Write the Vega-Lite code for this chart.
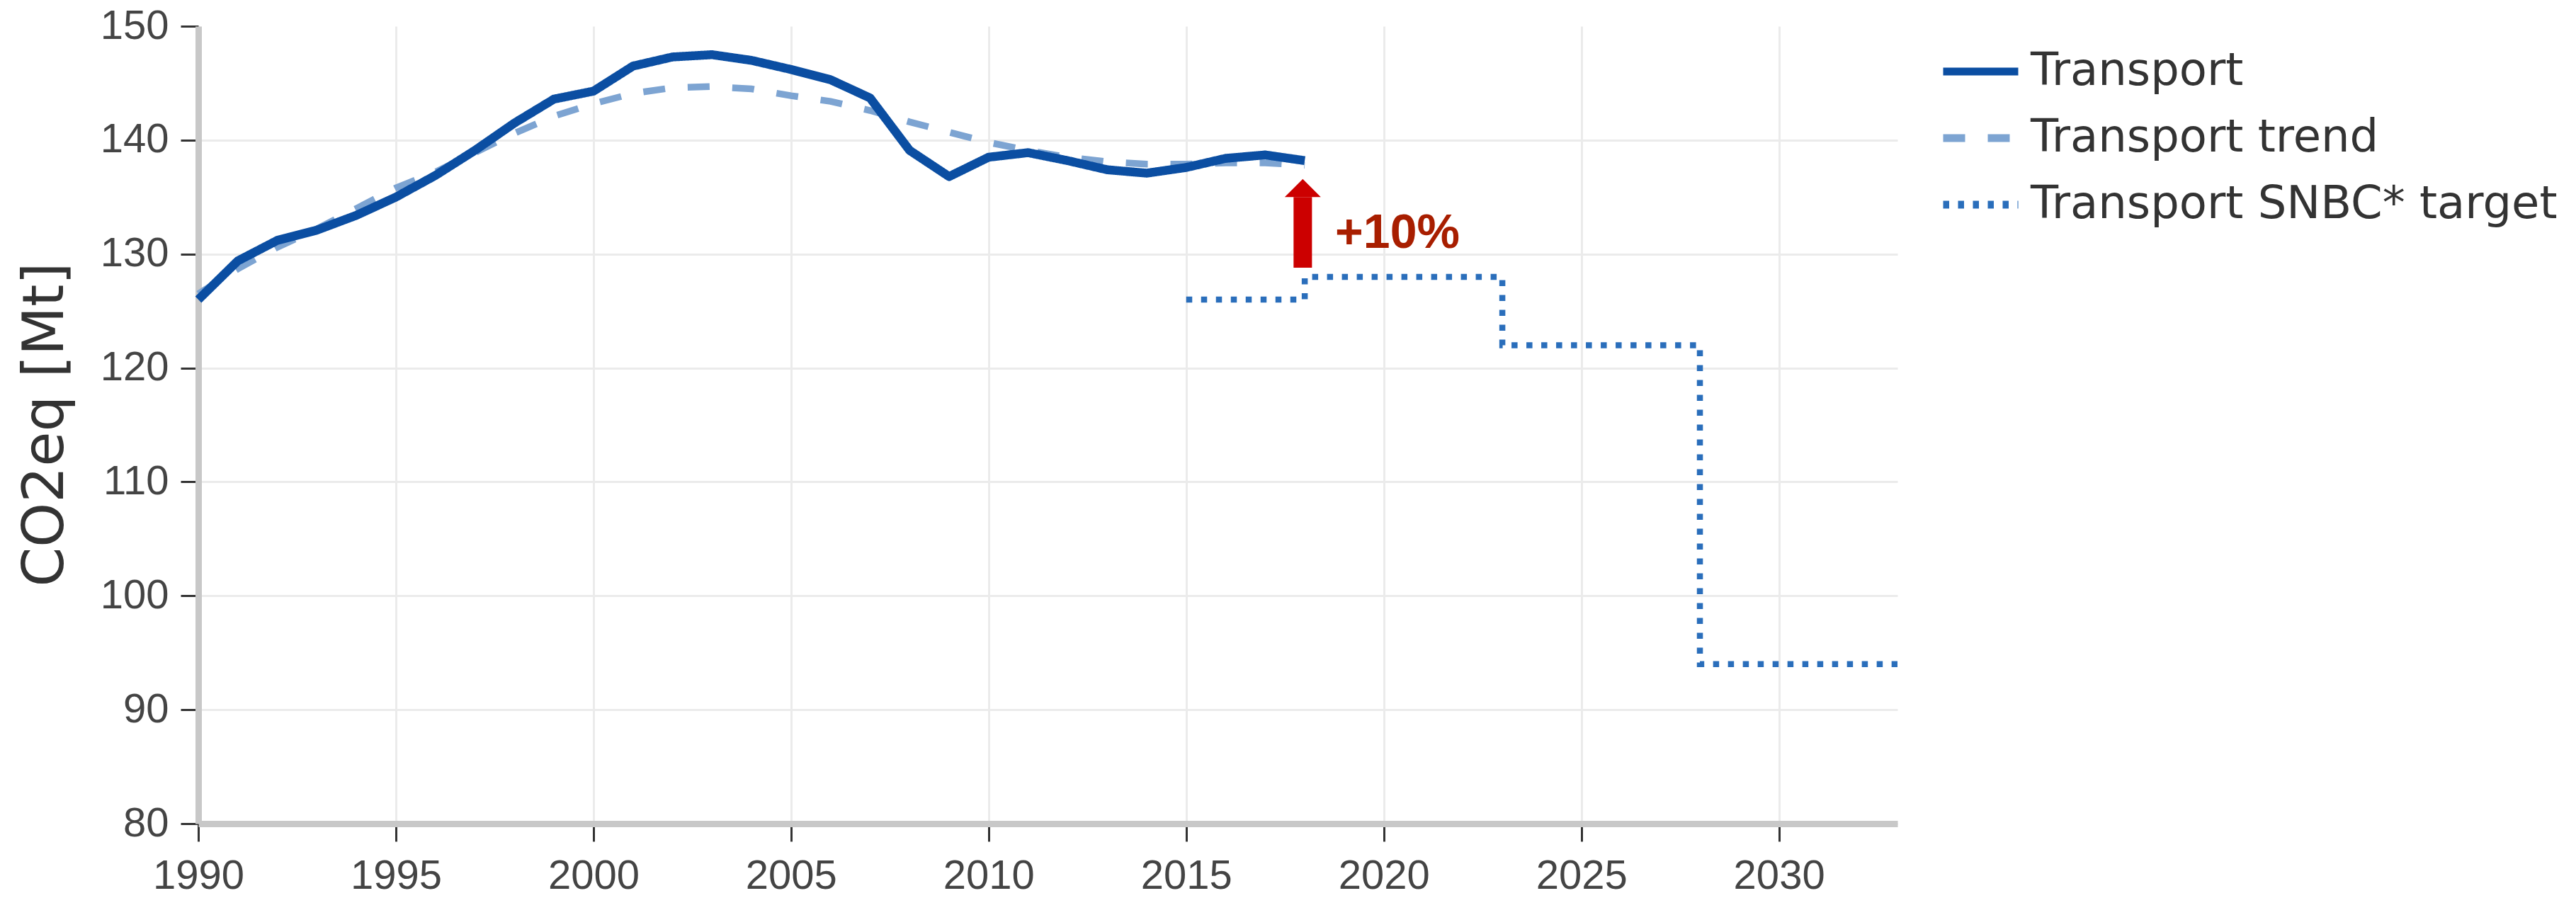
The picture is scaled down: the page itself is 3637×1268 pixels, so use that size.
{
  "$schema": "https://vega.github.io/schema/vega-lite/v6.json",
  "autosize": "none",
  "width": 2399,
  "height": 1126,
  "padding": {"left": 280, "top": 37, "right": 958, "bottom": 105},
  "background": "white",
  "config": {
    "view": {"stroke": null},
    "font": "DejaVu Sans",
    "axis": {
      "gridColor": "#ebebeb",
      "gridWidth": 3,
      "domainColor": "#c8c8c8",
      "domainWidth": 9,
      "tickColor": "#333333",
      "tickWidth": 3,
      "tickSize": 25,
      "labelFont": "Liberation Sans",
      "labelFontSize": 58,
      "labelColor": "#444444"
    },
    "legend": {
      "title": null,
      "orient": "none",
      "legendX": 2458,
      "legendY": 19,
      "labelFont": "DejaVu Sans",
      "labelFontSize": 64,
      "labelColor": "#333333",
      "labelLimit": 0,
      "symbolSize": 11236,
      "symbolStrokeWidth": 11,
      "clipHeight": 90,
      "rowPadding": 4,
      "labelOffset": 12,
      "symbolType": "stroke",
      "padding": 0
    }
  },
  "datasets": {
    "series": [
      {"series": "Transport", "year": 1990, "value": 126.0},
      {"series": "Transport", "year": 1991, "value": 129.4},
      {"series": "Transport", "year": 1992, "value": 131.2},
      {"series": "Transport", "year": 1993, "value": 132.1},
      {"series": "Transport", "year": 1994, "value": 133.4},
      {"series": "Transport", "year": 1995, "value": 135.0},
      {"series": "Transport", "year": 1996, "value": 136.9},
      {"series": "Transport", "year": 1997, "value": 139.1},
      {"series": "Transport", "year": 1998, "value": 141.5},
      {"series": "Transport", "year": 1999, "value": 143.6},
      {"series": "Transport", "year": 2000, "value": 144.3},
      {"series": "Transport", "year": 2001, "value": 146.5},
      {"series": "Transport", "year": 2002, "value": 147.3},
      {"series": "Transport", "year": 2003, "value": 147.5},
      {"series": "Transport", "year": 2004, "value": 147.0},
      {"series": "Transport", "year": 2005, "value": 146.2},
      {"series": "Transport", "year": 2006, "value": 145.3},
      {"series": "Transport", "year": 2007, "value": 143.7},
      {"series": "Transport", "year": 2008, "value": 139.1},
      {"series": "Transport", "year": 2009, "value": 136.8},
      {"series": "Transport", "year": 2010, "value": 138.5},
      {"series": "Transport", "year": 2011, "value": 138.9},
      {"series": "Transport", "year": 2012, "value": 138.2},
      {"series": "Transport", "year": 2013, "value": 137.4},
      {"series": "Transport", "year": 2014, "value": 137.1},
      {"series": "Transport", "year": 2015, "value": 137.6},
      {"series": "Transport", "year": 2016, "value": 138.4},
      {"series": "Transport", "year": 2017, "value": 138.7},
      {"series": "Transport", "year": 2018, "value": 138.2},
      {"series": "Transport trend", "year": 1990, "value": 126.5},
      {"series": "Transport trend", "year": 1991, "value": 128.7},
      {"series": "Transport trend", "year": 1992, "value": 130.6},
      {"series": "Transport trend", "year": 1993, "value": 132.2},
      {"series": "Transport trend", "year": 1994, "value": 134.0},
      {"series": "Transport trend", "year": 1995, "value": 135.8},
      {"series": "Transport trend", "year": 1996, "value": 137.2},
      {"series": "Transport trend", "year": 1997, "value": 138.9},
      {"series": "Transport trend", "year": 1998, "value": 140.6},
      {"series": "Transport trend", "year": 1999, "value": 142.1},
      {"series": "Transport trend", "year": 2000, "value": 143.2},
      {"series": "Transport trend", "year": 2001, "value": 144.1},
      {"series": "Transport trend", "year": 2002, "value": 144.6},
      {"series": "Transport trend", "year": 2003, "value": 144.7},
      {"series": "Transport trend", "year": 2004, "value": 144.5},
      {"series": "Transport trend", "year": 2005, "value": 143.9},
      {"series": "Transport trend", "year": 2006, "value": 143.4},
      {"series": "Transport trend", "year": 2007, "value": 142.6},
      {"series": "Transport trend", "year": 2008, "value": 141.6},
      {"series": "Transport trend", "year": 2009, "value": 140.7},
      {"series": "Transport trend", "year": 2010, "value": 139.8},
      {"series": "Transport trend", "year": 2011, "value": 139.1},
      {"series": "Transport trend", "year": 2012, "value": 138.5},
      {"series": "Transport trend", "year": 2013, "value": 138.1},
      {"series": "Transport trend", "year": 2014, "value": 137.9},
      {"series": "Transport trend", "year": 2015, "value": 137.9},
      {"series": "Transport trend", "year": 2016, "value": 138.0},
      {"series": "Transport trend", "year": 2017, "value": 138.0},
      {"series": "Transport trend", "year": 2018, "value": 137.8},
      {"series": "Transport SNBC* target", "year": 2015, "value": 126},
      {"series": "Transport SNBC* target", "year": 2018, "value": 128},
      {"series": "Transport SNBC* target", "year": 2023, "value": 122},
      {"series": "Transport SNBC* target", "year": 2028, "value": 94},
      {"series": "Transport SNBC* target", "year": 2033, "value": 94}
    ],
    "arrow": [
      {"year": 2017.95, "low": 128.8, "high": 135.0}
    ],
    "label": [
      {"year": 2018.77, "value": 130.55, "text": "+10%"}
    ]
  },
  "encoding": {
    "x": {
      "field": "year", "type": "quantitative",
      "scale": {"domain": [1990, 2033], "nice": false, "zero": false},
      "axis": {
        "title": null, "values": [1990, 1995, 2000, 2005, 2010, 2015, 2020, 2025, 2030],
        "format": "d", "labelPadding": 20, "labelFlush": false
      }
    }
  },
  "layer": [
    {
      "data": {"name": "series"},
      "transform": [{"filter": "datum.series === 'Transport trend'"}],
      "mark": {"type": "line", "strokeCap": "butt", "strokeWidth": 9.5},
      "encoding": {
        "y": {
          "field": "value", "type": "quantitative",
          "scale": {"domain": [80, 150], "nice": false, "zero": false},
          "axis": {
            "title": "CO2eq [Mt]",
            "values": [80, 90, 100, 110, 120, 130, 140, 150],
            "labelPadding": 17,
            "gridOpacity": {"condition": {"test": "datum.value == 150", "value": 0}, "value": 1},
            "titleFont": "DejaVu Sans",
            "titleFontSize": 80,
            "titleFontWeight": "normal",
            "titleColor": "#333333",
            "titleAngle": 270,
            "titleAlign": "center",
            "titleBaseline": "alphabetic",
            "titleX": -192,
            "titleY": 562
          }
        },
        "color": {
          "field": "series", "type": "nominal",
          "scale": {"domain": ["Transport", "Transport trend", "Transport SNBC* target"], "range": ["#0b4ea2", "#7da4d2", "#2a6ebb"]}
        },
        "strokeDash": {
          "field": "series", "type": "nominal",
          "scale": {"domain": ["Transport", "Transport trend", "Transport SNBC* target"], "range": [[1, 0], [31, 32], [8.5, 12.5]]}
        }
      }
    },
    {
      "data": {"name": "series"},
      "transform": [{"filter": "datum.series === 'Transport'"}],
      "mark": {"type": "line", "strokeCap": "butt", "strokeJoin": "round", "strokeWidth": 12.5},
      "encoding": {
        "y": {"field": "value", "type": "quantitative"},
        "color": {"field": "series", "type": "nominal"},
        "strokeDash": {"field": "series", "type": "nominal"}
      }
    },
    {
      "data": {"name": "series"},
      "transform": [{"filter": "datum.series === 'Transport SNBC* target'"}],
      "mark": {"type": "line", "interpolate": "step-after", "strokeCap": "butt", "strokeWidth": 8.5},
      "encoding": {
        "y": {"field": "value", "type": "quantitative"},
        "color": {"field": "series", "type": "nominal"},
        "strokeDash": {"field": "series", "type": "nominal"}
      }
    },
    {
      "data": {"name": "arrow"},
      "mark": {"type": "rule", "color": "#cc0000", "strokeWidth": 26, "strokeCap": "butt"},
      "encoding": {
        "y": {"field": "low", "type": "quantitative"},
        "y2": {"field": "high"}
      }
    },
    {
      "data": {"name": "arrow"},
      "mark": {"type": "point", "shape": "M-1,0L1,0L0,-1Z", "filled": true, "color": "#cc0000", "opacity": 1, "size": 2601},
      "encoding": {
        "y": {"field": "high", "type": "quantitative"}
      }
    },
    {
      "data": {"name": "label"},
      "mark": {"type": "text", "align": "left", "baseline": "alphabetic", "font": "Liberation Sans", "fontWeight": "bold", "fontSize": 68, "color": "#a81e00"},
      "encoding": {
        "y": {"field": "value", "type": "quantitative"},
        "text": {"field": "text"}
      }
    }
  ]
}
